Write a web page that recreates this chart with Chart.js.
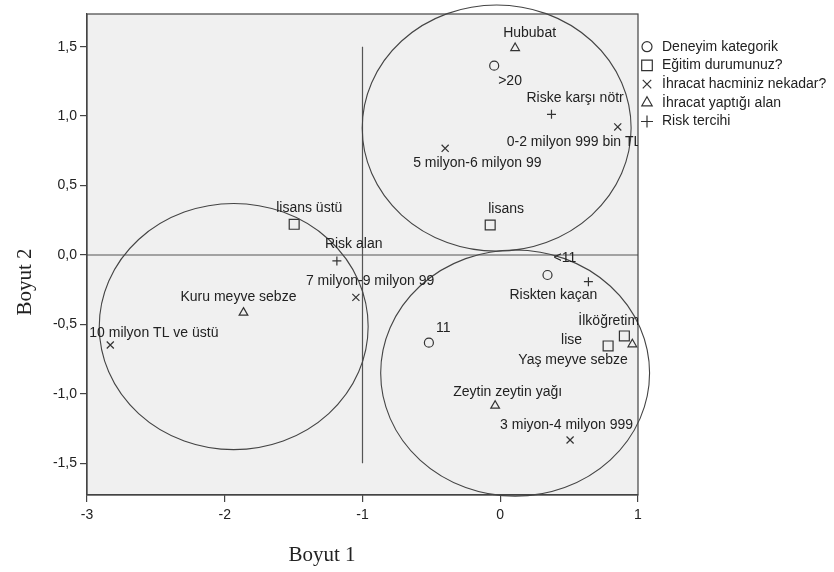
<!DOCTYPE html>
<html>
<head>
<meta charset="utf-8">
<script src="https://cdn.jsdelivr.net/npm/chart.js@4.4.0/dist/chart.umd.min.js"></script>
<style>
  html, body { margin: 0; padding: 0; background: #fff; }
</style>
</head>
<body>
<canvas id="myChart" width="834" height="572"></canvas>
<script>
// --- data ---
const xTicks = [-3, -2, -1, 0, 1];
const yTicks = [-1.5, -1, -0.5, 0, 0.5, 1, 1.5];

const deneyimLabels = ['>20', '<11', '11'];
const deneyimX = [-0.044, 0.343, -0.518];
const deneyimY = [1.363, -0.144, -0.631];

const egitimLabels = ['lisans', 'lisans üstü', 'lise', 'İlköğretim'];
const egitimX = [-0.073, -1.496, 0.783, 0.901];
const egitimY = [0.216, 0.221, -0.655, -0.583];

const hacimLabels = ['0-2 milyon 999 bin TL', '5 milyon-6 milyon 99', '7 milyon-9 milyon 99', '10 milyon TL ve üstü', '3 miyon-4 milyon 999'];
const hacimX = [0.853, -0.40, -1.048, -2.831, 0.507];
const hacimY = [0.922, 0.768, -0.305, -0.648, -1.332];

const alanLabels = ['Hububat', 'Kuru meyve sebze', 'Zeytin zeytin yağı', 'Yaş meyve sebze'];
const alanX = [0.108, -1.864, -0.037, 0.959];
const alanY = [1.490, -0.415, -1.085, -0.643];

const riskLabels = ['Riske karşı nötr', 'Risk alan', 'Riskten kaçan'];
const riskX = [0.372, -1.186, 0.640];
const riskY = [1.013, -0.043, -0.192];

// cluster ellipses: centre and radii in axis units
const ellipseX = [-0.026, -1.935, 0.108];
const ellipseY = [0.914, -0.515, -0.85];
const ellipseRx = [0.976, 0.976, 0.976];
const ellipseRy = [0.886, 0.886, 0.886];

// reference lines
const hLineX = [-3, 1];
const vLineY = [-1.5, 1.5];

// label offsets in pixels (left edge, vertical middle)
const deneyimOff = [[4, 15], [6, -17], [7, -14]];
const egitimOff = [[-2, -16], [-18, -16], [-47, -6], [-46, -15]];
const hacimOff = [[-111, 15], [-32, 15], [-50, -16], [-21, -12], [-70, -15]];
const alanOff = [[-12, -15], [-63, -15], [-42, -14], [-114, 16]];
const riskOff = [[-25, -16], [-12, -17], [-79, 13]];

function pts(xs, ys) {
  return xs.map((x, i) => ({ x: x, y: ys[i] }));
}

const ink = '#333';
const labelFont = '14px "Liberation Sans", Arial, sans-serif';

function markerSet(name, xs, ys, labels, offs, style, r) {
  return {
    type: 'scatter',
    label: name,
    data: pts(xs, ys),
    pointLabels: labels,
    labelOffsets: offs,
    pointStyle: style,
    pointRadius: r,
    pointHoverRadius: r,
    borderColor: ink,
    backgroundColor: 'rgba(0,0,0,0)',
    pointBorderWidth: 1.2,
    isMarker: true
  };
}

const datasets = [
  markerSet('Deneyim kategorik', deneyimX, deneyimY, deneyimLabels, deneyimOff, 'circle', 4.5),
  markerSet('Eğitim durumunuz?', egitimX, egitimY, egitimLabels, egitimOff, 'rect', 7),
  markerSet('İhracat hacminiz nekadar?', hacimX, hacimY, hacimLabels, hacimOff, 'crossRot', 5),
  markerSet('İhracat yaptığı alan', alanX, alanY, alanLabels, alanOff, 'triangle', 5),
  markerSet('Risk tercihi', riskX, riskY, riskLabels, riskOff, 'cross', 4.5),
  {
    type: 'line', label: 'h0', data: pts(hLineX, [0, 0]),
    borderColor: '#555', borderWidth: 1.2, pointRadius: 0, showLine: true
  },
  {
    type: 'line', label: 'v0', data: pts([-1, -1], vLineY),
    borderColor: '#555', borderWidth: 1.2, pointRadius: 0, showLine: true
  }
];

const decor = {
  id: 'decor',
  beforeDraw(chart) {
    const a = chart.chartArea, ctx = chart.ctx;
    ctx.save();
    ctx.fillStyle = '#f0f0f0';
    ctx.fillRect(a.left, a.top, a.right - a.left, a.bottom - a.top);
    ctx.restore();
  },
  afterDatasetsDraw(chart) {
    const a = chart.chartArea, ctx = chart.ctx;
    const xs = chart.scales.x, ys = chart.scales.y;

    // frame
    ctx.save();
    ctx.strokeStyle = '#444';
    ctx.lineWidth = 1.2;
    ctx.strokeRect(a.left, a.top, a.right - a.left, a.bottom - a.top);
    ctx.restore();

    // ellipses (not clipped)
    ctx.save();
    ctx.strokeStyle = '#444';
    ctx.lineWidth = 1.1;
    ellipseX.forEach((cx, i) => {
      const px = xs.getPixelForValue(cx), py = ys.getPixelForValue(ellipseY[i]);
      const rx = Math.abs(xs.getPixelForValue(cx + ellipseRx[i]) - px);
      const ry = Math.abs(ys.getPixelForValue(ellipseY[i] + ellipseRy[i]) - py);
      ctx.beginPath();
      ctx.ellipse(px, py, rx, ry, 0, 0, Math.PI * 2);
      ctx.stroke();
    });
    ctx.restore();

    // point labels, clipped to plot area
    ctx.save();
    ctx.beginPath();
    ctx.rect(a.left, a.top, a.right - a.left, a.bottom - a.top);
    ctx.clip();
    ctx.font = labelFont;
    ctx.fillStyle = '#222';
    ctx.textAlign = 'left';
    ctx.textBaseline = 'middle';
    chart.data.datasets.forEach((ds, di) => {
      if (!ds.isMarker) return;
      const meta = chart.getDatasetMeta(di);
      meta.data.forEach((el, i) => {
        const o = ds.labelOffsets[i];
        ctx.fillText(ds.pointLabels[i], el.x + o[0], el.y + o[1]);
      });
    });
    ctx.restore();

    // legend
    ctx.save();
    ctx.font = labelFont;
    ctx.textAlign = 'left';
    ctx.textBaseline = 'middle';
    let row = 0;
    chart.data.datasets.forEach((ds) => {
      if (!ds.isMarker) return;
      const y = 46.7 + row * 18.7;
      ctx.strokeStyle = ink;
      ctx.fillStyle = 'rgba(0,0,0,0)';
      ctx.lineWidth = 1.2;
      const r = { circle: 5, rect: 7.5, crossRot: 6, triangle: 6, cross: 6 }[ds.pointStyle];
      Chart.helpers.drawPoint(ctx, { pointStyle: ds.pointStyle, radius: r, rotation: 0, borderWidth: 1.2 }, 647, y);
      ctx.fillStyle = '#222';
      ctx.fillText(ds.label, 662, y);
      row++;
    });
    ctx.restore();

    // axis titles
    ctx.save();
    ctx.font = '21px "Liberation Serif", "Times New Roman", serif';
    ctx.fillStyle = '#222';
    ctx.textAlign = 'center';
    ctx.textBaseline = 'middle';
    ctx.fillText('Boyut 1', 322, 555);
    ctx.translate(25, 282);
    ctx.rotate(-Math.PI / 2);
    ctx.fillText('Boyut 2', 0, 0);
    ctx.restore();
  }
};

const tickFont = { family: '"Liberation Sans", Arial, sans-serif', size: 14 };

new Chart(document.getElementById('myChart').getContext('2d'), {
  data: { datasets: datasets },
  options: {
    responsive: false,
    animation: false,
    devicePixelRatio: 1,
    layout: { padding: { left: 0, top: 14, right: 196, bottom: 0 } },
    plugins: {
      legend: { display: false },
      tooltip: { enabled: false }
    },
    scales: {
      x: {
        type: 'linear',
        min: -3, max: 1,
        afterBuildTicks(scale) { scale.ticks = xTicks.map(v => ({ value: v })); },
        afterFit(scale) { scale.height = 77; },
        ticks: { color: '#222', font: tickFont, padding: 5, callback: v => String(v) },
        grid: { drawOnChartArea: false, drawTicks: true, tickLength: 7, color: '#444', lineWidth: 1.2 },
        border: { display: true, color: '#444', width: 1.2 }
      },
      y: {
        type: 'linear',
        min: -1.728, max: 1.735,
        afterBuildTicks(scale) { scale.ticks = yTicks.map(v => ({ value: v })); },
        afterFit(scale) { scale.width = 87; },
        ticks: { color: '#222', font: tickFont, padding: 3, callback: v => v.toFixed(1).replace('.', ',') },
        grid: { drawOnChartArea: false, drawTicks: true, tickLength: 7, color: '#444', lineWidth: 1.2 },
        border: { display: true, color: '#444', width: 1.2 }
      }
    }
  },
  plugins: [decor]
});
</script>
</body>
</html>
